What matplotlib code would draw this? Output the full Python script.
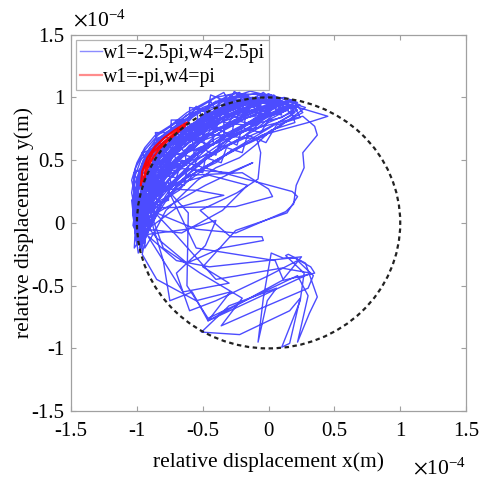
import numpy as np
import matplotlib
matplotlib.use("Agg")
import matplotlib.pyplot as plt
from matplotlib.patches import Circle

plt.rcParams['font.family'] = ['Liberation Serif', 'DejaVu Serif']
plt.rcParams['mathtext.fontset'] = 'stix'

# values in units of 1e-4 m
# dense sweeps along the upper-left arc
band_xy = [
    (-0.97, 0.05), (-0.95, 0.30), (-0.86, 0.50), (-0.70, 0.68), (-0.48, 0.84), (-0.22, 0.97),
    (-0.05, 0.93), (-0.30, 0.80), (-0.55, 0.64), (-0.75, 0.45), (-0.90, 0.22), (-0.99, -0.02),
    (-0.96, 0.18), (-0.90, 0.40), (-0.78, 0.58), (-0.60, 0.76), (-0.38, 0.90), (-0.12, 1.00),
    (0.05, 0.95), (-0.20, 0.84), (-0.45, 0.70), (-0.66, 0.52), (-0.84, 0.30), (-0.97, 0.08),
    (-1.00, -0.08), (-0.97, 0.22), (-0.88, 0.44), (-0.74, 0.62), (-0.55, 0.79), (-0.30, 0.93), (-0.08, 0.99),
    (0.12, 0.93), (-0.10, 0.78), (-0.38, 0.62), (-0.60, 0.46), (-0.80, 0.26), (-0.94, 0.02),
    (-0.98, 0.12), (-0.93, 0.35), (-0.82, 0.55), (-0.64, 0.73), (-0.42, 0.88), (-0.18, 0.99),
    (0.00, 0.98), (-0.26, 0.86), (-0.50, 0.73), (-0.70, 0.56), (-0.86, 0.36), (-0.96, 0.12), (-1.01, -0.05),
    (-0.99, 0.08), (-0.94, 0.28), (-0.84, 0.47), (-0.68, 0.64), (-0.50, 0.80), (-0.28, 0.92), (0.02, 0.97),
    (0.20, 0.96), (-0.02, 0.86), (-0.28, 0.72), (-0.50, 0.58), (-0.72, 0.40), (-0.88, 0.18), (-0.97, -0.10),
    (-1.02, 0.02), (-1.01, 0.28), (-0.95, 0.50), (-0.80, 0.68), (-0.60, 0.84), (-0.38, 0.97), (-0.18, 1.02),
    (-0.10, 0.95), (-0.34, 0.84), (-0.58, 0.70), (-0.76, 0.52), (-0.90, 0.32), (-0.98, 0.10),
    (-0.94, -0.15), (-0.92, 0.14), (-0.84, 0.38), (-0.70, 0.56), (-0.52, 0.72), (-0.30, 0.86), (-0.04, 0.96),
    (0.15, 0.90), (-0.08, 0.82), (-0.32, 0.70), (-0.54, 0.55), (-0.74, 0.36), (-0.90, 0.14), (-0.99, -0.04),
    (-0.97, 0.16), (-0.93, 0.38), (-0.84, 0.56), (-0.68, 0.72), (-0.48, 0.86), (-0.26, 0.97),
    (-0.40, 0.97), (-0.58, 0.84), (-0.74, 0.66), (-0.86, 0.46), (-0.95, 0.24), (-0.99, 0.04),
    (-0.96, -0.22), (-0.97, 0.04), (-0.92, 0.30), (-0.80, 0.50), (-0.62, 0.68), (-0.40, 0.84), (-0.14, 0.96), (0.08, 0.98),
    (0.22, 0.90), (0.00, 0.80), (-0.24, 0.66), (-0.46, 0.52), (-0.66, 0.34), (-0.82, 0.14), (-0.92, -0.06),
    (-0.98, -0.02), (-0.95, 0.24), (-0.86, 0.44), (-0.72, 0.62), (-0.54, 0.78), (-0.32, 0.90), (-0.06, 0.98),
    (0.06, 0.92), (-0.16, 0.80), (-0.42, 0.66), (-0.64, 0.48), (-0.82, 0.28), (-0.95, 0.06),
    (-1.01, -0.12), (-0.99, 0.14), (-0.92, 0.36), (-0.80, 0.56), (-0.63, 0.74), (-0.44, 0.90), (-0.24, 1.00),
    (-0.02, 1.00), (-0.22, 0.90), (-0.46, 0.78), (-0.66, 0.62), (-0.82, 0.42), (-0.93, 0.20), (-0.98, -0.06),
    (-0.95, 0.10), (-0.88, 0.32), (-0.76, 0.50), (-0.58, 0.66), (-0.36, 0.80), (-0.12, 0.90), (0.10, 0.94),
    (0.18, 0.86), (-0.04, 0.74), (-0.30, 0.62), (-0.52, 0.48), (-0.70, 0.30), (-0.84, 0.08), (-0.94, -0.12),
    (-1.00, 0.00), (-0.98, 0.20), (-0.91, 0.42), (-0.79, 0.60), (-0.61, 0.76), (-0.40, 0.90), (-0.16, 0.98),
    (-0.06, 0.96), (-0.28, 0.88), (-0.52, 0.76), (-0.72, 0.60), (-0.86, 0.40), (-0.96, 0.18), (-1.02, -0.02),
    (-1.00, 0.30), (-0.97, 0.44), (-0.90, 0.58), (-0.77, 0.72), (-0.58, 0.86), (-0.36, 0.98), (-0.10, 1.03),
    (0.10, 0.97), (-0.12, 0.88), (-0.36, 0.76), (-0.58, 0.60), (-0.76, 0.42), (-0.89, 0.22), (-0.97, 0.00),
    (-0.99, -0.16), (-0.98, 0.10), (-0.93, 0.32), (-0.83, 0.52), (-0.66, 0.70), (-0.46, 0.85), (-0.20, 0.96),
    (0.02, 0.90), (-0.22, 0.76), (-0.44, 0.62), (-0.62, 0.44), (-0.78, 0.22), (-0.90, 0.00),
    (-0.96, 0.06), (-0.94, 0.28), (-0.85, 0.49), (-0.71, 0.66), (-0.52, 0.82), (-0.28, 0.95), (-0.02, 1.01),
    (0.14, 0.96), (-0.06, 0.88), (-0.30, 0.78), (-0.54, 0.66), (-0.72, 0.50), (-0.87, 0.30), (-0.97, 0.06),
    (-1.02, 0.16), (-0.99, 0.36), (-0.91, 0.55), (-0.75, 0.72), (-0.55, 0.88), (-0.32, 0.99),
    (-0.14, 0.98), (-0.38, 0.86), (-0.60, 0.72), (-0.78, 0.54), (-0.90, 0.34), (-0.97, 0.14), (-1.00, -0.06),
    (-0.62, 0.80), (-0.55, 0.93), (-0.50, 0.84), (-0.44, 0.97), (-0.38, 0.86), (-0.30, 1.00), (-0.24, 0.88),
    (-0.16, 1.02), (-0.10, 0.90), (0.00, 1.01), (0.06, 0.90), (0.14, 0.97), (0.20, 0.88),
    (-1.03, 0.10), (-1.02, 0.36), (-0.97, 0.50), (-0.86, 0.66), (-0.74, 0.74), (-0.62, 0.86), (-0.46, 0.92), (-0.30, 1.02),
    (-0.20, 0.94), (-0.32, 0.78), (-0.44, 0.74), (-0.56, 0.60), (-0.68, 0.52), (-0.76, 0.38), (-0.86, 0.26), (-0.92, 0.08), (-0.96, -0.18),
    (-1.03, -0.02), (-1.00, 0.20), (-0.98, 0.42), (-0.92, 0.52), (-0.84, 0.66), (-0.70, 0.76), (-0.55, 0.88), (-0.40, 0.93), (-0.26, 1.03), (0.02, 1.02),
    (0.24, 0.94), (0.10, 0.84), (-0.06, 0.80), (-0.20, 0.68), (-0.36, 0.60), (-0.50, 0.50), (-0.64, 0.40), (-0.78, 0.28), (-0.88, 0.10), (-0.98, -0.14),
    (-1.00, 0.05), (-0.99, 0.32), (-0.95, 0.46), (-0.88, 0.54), (-0.80, 0.64), (-0.66, 0.74), (-0.52, 0.80), (-0.36, 0.90), (-0.20, 0.94), (-0.04, 1.04),
    (0.08, 0.94), (-0.06, 0.86), (-0.16, 0.74), (-0.32, 0.66), (-0.42, 0.56), (-0.58, 0.50), (-0.70, 0.42), (-0.82, 0.34), (-0.92, 0.18), (-1.00, 0.02),
    (-1.04, 0.24), (-1.01, 0.44), (-0.94, 0.58), (-0.84, 0.70), (-0.70, 0.80), (-0.56, 0.90), (-0.40, 1.00), (-0.22, 1.04),
    (-0.14, 0.92), (-0.26, 0.80), (-0.40, 0.70), (-0.48, 0.62), (-0.62, 0.56), (-0.72, 0.46), (-0.80, 0.36), (-0.88, 0.24), (-0.94, 0.04), (-0.98, -0.20),
    (-0.97, -0.08), (-0.96, 0.14), (-0.90, 0.26), (-0.86, 0.42), (-0.76, 0.52), (-0.66, 0.64), (-0.50, 0.72), (-0.38, 0.82), (-0.20, 0.88), (0.00, 0.94), (0.18, 0.98),
    (0.26, 0.88), (0.12, 0.80), (-0.02, 0.70), (-0.14, 0.64), (-0.28, 0.58), (-0.40, 0.48), (-0.56, 0.40), (-0.68, 0.26), (-0.80, 0.18), (-0.90, -0.04), (-0.99, -0.24),
    (-1.03, 0.06), (-1.02, 0.30), (-0.96, 0.48), (-0.90, 0.60), (-0.78, 0.72), (-0.64, 0.82), (-0.50, 0.92), (-0.34, 0.98), (-0.14, 1.05), (0.06, 1.00),
    (0.16, 0.92), (0.04, 0.86), (-0.10, 0.84), (-0.22, 0.74), (-0.36, 0.68), (-0.48, 0.58), (-0.60, 0.52), (-0.72, 0.44), (-0.84, 0.32), (-0.94, 0.16), (-1.01, -0.08),
    (-0.99, 0.24), (-0.97, 0.36), (-0.93, 0.48), (-0.87, 0.58), (-0.78, 0.66), (-0.68, 0.72), (-0.58, 0.78), (-0.46, 0.86), (-0.34, 0.92), (-0.18, 0.98), (-0.02, 0.98), (0.12, 1.00),
    (0.22, 0.96), (0.08, 0.90), (-0.08, 0.76), (-0.24, 0.72), (-0.34, 0.62), (-0.46, 0.54), (-0.58, 0.44), (-0.70, 0.34), (-0.82, 0.20), (-0.92, 0.10), (-0.97, -0.12),
    (-1.02, -0.20), (-1.01, 0.00), (-0.99, 0.18), (-0.95, 0.34), (-0.89, 0.44), (-0.82, 0.58), (-0.72, 0.66), (-0.60, 0.74), (-0.48, 0.82), (-0.32, 0.88), (-0.16, 0.96), (0.00, 1.03),
    (0.18, 0.92), (0.00, 0.86), (-0.12, 0.78), (-0.26, 0.70), (-0.38, 0.64), (-0.52, 0.60), (-0.64, 0.48), (-0.76, 0.46), (-0.86, 0.34), (-0.93, 0.24), (-0.99, 0.10),
    (-1.04, 0.34), (-1.00, 0.48), (-0.94, 0.60), (-0.86, 0.70), (-0.74, 0.78), (-0.62, 0.88), (-0.48, 0.96), (-0.34, 1.04),
    (-0.28, 0.92), (-0.42, 0.82), (-0.52, 0.74), (-0.64, 0.66), (-0.74, 0.56), (-0.84, 0.48), (-0.90, 0.36), (-0.96, 0.22), (-0.99, 0.02),
    (-0.95, 0.00), (-0.92, 0.20), (-0.86, 0.30), (-0.80, 0.44), (-0.70, 0.50), (-0.60, 0.62), (-0.44, 0.68), (-0.30, 0.76), (-0.16, 0.84), (0.04, 0.88), (0.22, 0.94),
    (0.28, 0.92), (0.10, 0.78), (-0.08, 0.68), (-0.22, 0.60), (-0.36, 0.52), (-0.50, 0.44), (-0.62, 0.36), (-0.74, 0.24), (-0.86, 0.12), (-0.95, -0.02), (-1.00, -0.14),
    (-0.98, 0.00), (-0.90, 0.12), (-0.95, 0.26), (-0.84, 0.34), (-0.90, 0.46), (-0.76, 0.52), (-0.80, 0.62), (-0.64, 0.64),
    (-0.66, 0.76), (-0.50, 0.74), (-0.50, 0.86), (-0.34, 0.82), (-0.32, 0.94), (-0.16, 0.88), (-0.12, 0.99), (0.04, 0.92),
    (0.10, 0.86), (-0.06, 0.90), (-0.10, 0.78), (-0.26, 0.82), (-0.28, 0.70), (-0.42, 0.76), (-0.42, 0.62), (-0.58, 0.66),
    (-0.56, 0.52), (-0.72, 0.56), (-0.68, 0.42), (-0.84, 0.42), (-0.78, 0.28), (-0.92, 0.28), (-0.86, 0.12), (-0.98, 0.10), (-0.94, -0.06),
    (-1.02, 0.06), (-0.94, 0.20), (-0.99, 0.34), (-0.88, 0.40), (-0.93, 0.52), (-0.80, 0.56), (-0.84, 0.68), (-0.68, 0.68),
    (-0.70, 0.80), (-0.54, 0.78), (-0.54, 0.90), (-0.38, 0.86), (-0.38, 0.98), (-0.22, 0.92), (-0.20, 1.02), (-0.04, 0.96), (0.04, 1.02),
    (0.14, 0.90), (0.00, 0.82), (-0.06, 0.72), (-0.20, 0.76), (-0.24, 0.62), (-0.36, 0.68), (-0.40, 0.54), (-0.52, 0.60),
    (-0.56, 0.46), (-0.66, 0.50), (-0.70, 0.36), (-0.80, 0.38), (-0.82, 0.22), (-0.90, 0.20), (-0.92, 0.02), (-1.00, -0.02),
    (-0.96, -0.12), (-0.88, 0.04), (-0.92, 0.18), (-0.82, 0.24), (-0.88, 0.36), (-0.74, 0.40), (-0.80, 0.52), (-0.64, 0.56),
    (-0.70, 0.66), (-0.52, 0.66), (-0.58, 0.78), (-0.40, 0.76), (-0.44, 0.88), (-0.26, 0.86), (-0.28, 0.98), (-0.08, 0.92), (0.08, 0.96), (0.20, 0.92),
    (0.24, 0.84), (0.06, 0.78), (-0.02, 0.64), (-0.16, 0.70), (-0.20, 0.56), (-0.32, 0.60), (-0.36, 0.48), (-0.48, 0.52),
    (-0.50, 0.40), (-0.62, 0.44), (-0.64, 0.30), (-0.76, 0.32), (-0.76, 0.18), (-0.86, 0.16), (-0.88, 0.00), (-0.96, -0.04), (-1.00, -0.18),
    (-1.04, 0.18), (-0.98, 0.28), (-1.02, 0.40), (-0.92, 0.46), (-0.96, 0.56), (-0.84, 0.60), (-0.86, 0.72), (-0.74, 0.72),
    (-0.74, 0.82), (-0.60, 0.82), (-0.60, 0.92), (-0.46, 0.90), (-0.44, 1.02), (-0.30, 0.96), (-0.26, 1.05),
    (-0.18, 0.96), (-0.24, 0.84), (-0.36, 0.88), (-0.40, 0.74), (-0.50, 0.80), (-0.56, 0.66), (-0.64, 0.72), (-0.70, 0.58),
    (-0.78, 0.62), (-0.80, 0.48), (-0.88, 0.52), (-0.88, 0.38), (-0.96, 0.40), (-0.94, 0.24), (-1.00, 0.22), (-0.98, 0.06),
    (-0.92, -0.02), (-0.84, 0.12), (-0.86, 0.26), (-0.74, 0.30), (-0.76, 0.44), (-0.62, 0.46), (-0.64, 0.58), (-0.48, 0.58),
    (-0.50, 0.70), (-0.34, 0.70), (-0.34, 0.80), (-0.18, 0.78), (-0.18, 0.90), (-0.02, 0.86), (0.02, 0.96), (0.16, 0.94),
    (0.20, 0.80), (0.02, 0.74), (-0.10, 0.62), (-0.22, 0.52), (-0.40, 0.44), (-0.54, 0.34), (-0.66, 0.22), (-0.78, 0.10),
    (-0.86, -0.06), (-0.94, -0.20),
]

# sparse wandering loops away from the arc
loop_xy = [
    (-0.93, 0.28), (-0.55, 0.26), (-0.34, 0.22), (-0.42, 0.20), (-0.70, 0.12), (-0.88, -0.02),
    (-0.80, -0.30), (-0.75, -0.62), (-0.58, -0.55), (-0.46, -0.78), (0.10, -0.46), (0.35, -0.40),
    (0.32, -0.35), (0.20, -0.28), (0.11, -0.28), (0.02, -0.24), (-0.04, -0.60), (-0.08, -0.95),
    (-0.01, -0.62), (0.06, -0.52), (-0.30, -0.66), (-0.51, -0.87), (-0.22, -0.89), (0.16, -0.70),
    (0.24, -0.60), (0.16, -0.96), (0.10, -0.99), (0.24, -0.62), (0.27, -0.40), (0.13, -0.26),
    (0.15, -0.25), (0.28, -0.32), (0.37, -0.59), (0.31, -0.72), (0.22, -0.95), (0.30, -0.58),
    (0.22, -0.42), (-0.46, -0.76), (-0.62, -0.50), (-0.61, 0.08), (-0.80, 0.30), (-0.96, 0.30),
    (-0.60, 0.72), (-0.09, 0.67), (-0.06, 0.56), (-0.08, 0.35), (-0.24, 0.24), (-0.52, 0.10),
    (-0.29, -0.11), (-0.05, -0.11), (-0.04, -0.14), (-0.36, -0.20), (-0.62, -0.32), (-0.85, -0.12),
    (-0.98, 0.05), (-0.78, 0.40), (-0.30, 0.70), (0.26, 0.85), (0.35, 0.77), (0.37, 0.70),
    (0.26, 0.56), (0.27, 0.44), (0.21, 0.30), (0.19, 0.15), (0.13, 0.09), (-0.25, -0.08),
    (-0.55, -0.05), (-0.90, 0.10), (-0.70, 0.60), (0.10, 0.96), (0.45, 0.85), (0.30, 0.80),
    (-0.05, 0.70), (-0.40, 0.50), (-0.78, 0.20), (-0.95, 0.12), (-0.25, 0.13), (0.03, 0.21),
    (0.00, 0.27), (-0.20, 0.40), (-0.60, 0.38), (-0.88, 0.20), (-0.70, 0.50), (0.18, 0.25),
    (0.22, 0.21), (0.14, 0.08), (-0.25, -0.06), (-0.50, -0.35), (-0.30, -0.48), (-0.65, -0.55),
    (-0.92, -0.10), (-0.70, -0.30), (-0.45, -0.35), (0.25, -0.27), (0.11, -0.45), (0.05, -0.30),
    (-0.55, -0.20), (-0.85, 0.45), (-0.30, 0.40), (-0.12, 0.48), (-0.48, 0.30), (-0.90, 0.05),
    (-0.96, -0.25), (-0.85, -0.45), (-0.55, -0.62), (-0.29, -0.55), (-0.46, -0.78), (0.32, -0.40),
    (0.10, -0.36), (-0.40, -0.45), (-0.70, -0.10), (-0.97, 0.20),
    (-0.98, -0.10), (-0.62, -0.05), (-0.40, 0.02), (-0.48, -0.18), (-0.70, -0.40), (-0.60, -0.70),
    (-0.40, -0.62), (0.00, -0.42), (0.22, -0.30), (0.34, -0.42), (0.30, -0.52), (-0.10, -0.70),
    (-0.36, -0.82), (-0.20, -0.60), (-0.52, -0.40), (-0.80, -0.20), (-0.92, 0.15),
    (-0.75, 0.30), (-0.45, 0.38), (-0.16, 0.30), (-0.35, 0.10), (-0.66, -0.08), (-0.94, -0.05),
]

# red trajectory, w1=-pi, w4=pi
red_x = [-0.97, -0.96, -0.92, -0.86, -0.79, -0.71, -0.62, -0.66, -0.75, -0.83, -0.89, -0.93,
         -0.95, -0.93, -0.88, -0.80, -0.72, -0.64]
red_y = [0.30, 0.41, 0.52, 0.61, 0.68, 0.74, 0.80, 0.75, 0.67, 0.59, 0.50, 0.41,
         0.33, 0.45, 0.56, 0.64, 0.71, 0.77]

circle_r = 1.0
ticks = [-1.5, -1, -0.5, 0, 0.5, 1, 1.5]
tick_labels = ['-1.5', '-1', '-0.5', '0', '0.5', '1', '1.5']

fig = plt.figure(figsize=(4.87, 4.82), dpi=100)
ax = fig.add_axes([0.146, 0.147, 0.811, 0.781])

traj = np.array(band_xy + loop_xy)
ax.plot(traj[:, 0], traj[:, 1], color='blue', lw=1.0, alpha=0.7,
        label='w1=-2.5pi,w4=2.5pi')
ax.plot(red_x, red_y, color='red', lw=1.6, alpha=0.95, label='w1=-pi,w4=pi')

ax.add_patch(Circle((0, 0), circle_r, fill=False, ec='#222222', lw=1.6,
                    ls=(0, (2.0, 1.6)), zorder=3))

ax.set_xlim(-1.5, 1.5)
ax.set_ylim(-1.5, 1.5)
ax.set_xticks(ticks)
ax.set_yticks(ticks)
ax.set_xticklabels(tick_labels)
ax.set_yticklabels(tick_labels)
ax.tick_params(direction='in', length=3.5, width=0.8, color='#a0a0a0',
               top=True, right=True, labelsize=15)
ax.tick_params(axis='x', pad=8)
ax.tick_params(axis='y', pad=5)
for s in ax.spines.values():
    s.set_color('#a0a0a0')
    s.set_linewidth(0.9)

ax.set_xlabel('relative displacement x(m)', fontsize=15.5, labelpad=8)
ax.set_ylabel('relative displacement y(m)', fontsize=15.5)
ax.yaxis.set_label_coords(-0.093, 0.5)

fig.text(0.150, 0.936, r'$\times\mathdefault{10^{-4}}$', fontsize=15.5, ha='left', va='bottom')
fig.text(0.848, 0.006, r'$\times\mathdefault{10^{-4}}$', fontsize=15.5, ha='left', va='bottom')

leg = ax.legend(loc='upper left', fontsize=14.2, frameon=True, fancybox=False,
                borderaxespad=0.25, borderpad=0.2, handlelength=1.1,
                handletextpad=0.05, labelspacing=0.25)
for h in leg.legend_handles:
    h.set_alpha(0.45)
leg.get_frame().set_edgecolor('#a0a0a0')
leg.get_frame().set_linewidth(0.9)

fig.savefig('out.png', dpi=100)
